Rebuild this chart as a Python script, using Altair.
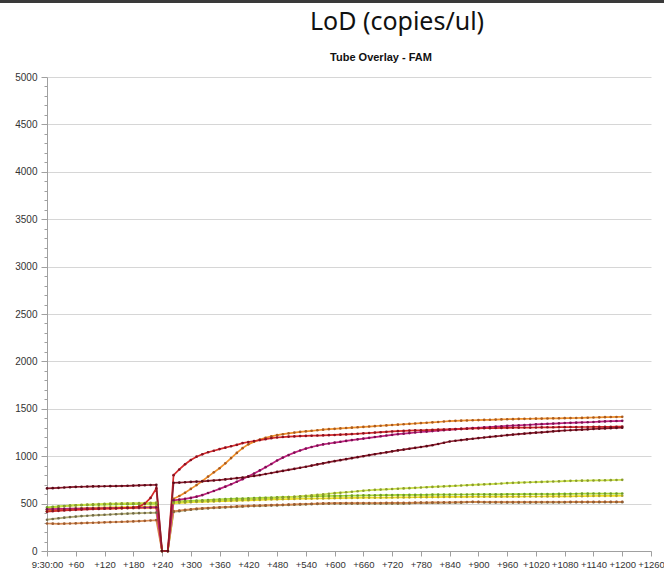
import altair as alt
import pandas as pd

# time grid (seconds after 9:30:00)
times = list(range(0, 1201, 12))
DIP = [0, 0]

tubes = ["Tube 1", "Tube 2", "Tube 3", "Tube 4", "Tube 5", "Tube 6", "Tube 7", "Tube 8", "Tube 9"]
line_colors = ["#b0a870", "#d88a50", "#f0e020", "#a8d830", "#c8e040",
               "#f0902a", "#c0207e", "#d42a2a", "#8b1a2b"]
point_colors = ["#706a48", "#9a5a30", "#a8a028", "#6a9a28", "#8a9a30",
                "#a85a20", "#7a1050", "#8a1020", "#5a0a18"]

olive_pre = [330, 338, 345, 352, 358, 363, 368, 372, 376, 379,
             382, 385, 388, 391, 394, 397, 399, 401, 403, 405]
olive_post = [412, 420, 428, 435, 441, 446, 450, 454, 457, 460,
              463, 466, 469, 472, 474, 476, 478, 480, 482, 484,
              486, 488, 490, 492, 494, 496, 498, 500, 500, 500,
              500, 500, 500, 500, 500, 500, 500, 500, 500, 500,
              500, 501, 506, 507, 507, 508, 508, 509, 509, 510,
              511, 514, 516, 515, 513, 512, 512, 512, 512, 512,
              512, 512, 512, 512, 513, 513, 513, 513, 513, 514,
              514, 514, 514, 514, 515, 515, 515, 515, 515]

brown_pre = [290, 288, 287, 288, 290, 292, 294, 296, 298, 300,
             302, 304, 306, 308, 310, 312, 315, 318, 322, 326]
brown_post = [420, 427, 434, 440, 446, 450, 454, 458, 461, 464,
              467, 470, 473, 476, 478, 480, 482, 484, 486, 488,
              490, 492, 494, 496, 498, 500, 502, 503, 504, 504,
              505, 505, 505, 506, 506, 506, 506, 507, 507, 507,
              507, 508, 510, 511, 511, 512, 512, 513, 513, 514,
              515, 517, 519, 518, 517, 516, 516, 516, 516, 516,
              516, 516, 516, 516, 517, 517, 517, 517, 517, 518,
              518, 518, 518, 518, 519, 519, 519, 519, 519]

yellow_pre = [420, 428, 435, 440, 444, 448, 451, 453, 455, 457,
              459, 460, 461, 462, 463, 464, 465, 466, 468, 470]
yellow_post = [505, 508, 511, 514, 517, 519, 521, 523, 525, 527,
               529, 531, 533, 535, 537, 539, 541, 543, 545, 546,
               548, 549, 551, 552, 553, 554, 555, 556, 557, 558,
               559, 560, 561, 562, 562, 563, 563, 564, 564, 565,
               565, 566, 567, 568, 568, 569, 569, 570, 570, 571,
               571, 571, 572, 572, 572, 573, 573, 573, 574, 574,
               574, 575, 575, 575, 575, 576, 576, 576, 577, 577,
               578, 578, 579, 580, 581, 581, 582, 582, 583]

lime_pre = [460, 466, 471, 475, 478, 481, 483, 485, 487, 488,
            490, 491, 492, 493, 494, 495, 496, 497, 498, 500]
lime_post = [520, 523, 526, 529, 532, 535, 538, 541, 544, 547,
             550, 552, 554, 556, 558, 560, 562, 564, 566, 568,
             570, 572, 574, 576, 577, 578, 579, 580, 581, 582,
             583, 584, 585, 586, 587, 588, 589, 590, 590, 591,
             591, 592, 592, 593, 593, 594, 594, 595, 595, 596,
             596, 596, 597, 597, 597, 598, 598, 598, 599, 599,
             599, 600, 600, 600, 601, 601, 601, 602, 602, 603,
             604, 605, 605, 606, 606, 606, 606, 606, 606]

ygreen_pre = [440, 455, 465, 472, 478, 483, 487, 490, 493, 495,
              497, 499, 500, 502, 503, 504, 505, 506, 508, 510]
ygreen_post = [515, 518, 520, 522, 525, 527, 530, 532, 534, 536,
               538, 540, 542, 544, 547, 550, 553, 556, 560, 564,
               568, 572, 577, 582, 587, 592, 597, 604, 610, 615,
               620, 625, 630, 636, 641, 645, 648, 651, 654, 657,
               660, 663, 666, 670, 673, 676, 679, 682, 685, 688,
               691, 694, 697, 700, 703, 706, 709, 712, 716, 719,
               721, 723, 725, 727, 729, 731, 733, 735, 738, 740,
               741, 742, 743, 744, 745, 746, 747, 749, 751]

orange_pre = [420, 428, 434, 438, 441, 443, 445, 446, 447, 448,
              449, 450, 450, 451, 452, 452, 453, 454, 455, 455]
orange_post = [550, 580, 615, 655, 695, 738, 785, 830, 873, 925,
               980, 1035, 1085, 1125, 1152, 1175, 1195, 1210, 1222, 1232,
               1241, 1249, 1256, 1262, 1268, 1274, 1280, 1285, 1289, 1293,
               1297, 1301, 1305, 1309, 1313, 1317, 1321, 1325, 1329, 1333,
               1337, 1341, 1345, 1349, 1353, 1357, 1361, 1366, 1371, 1373,
               1375, 1377, 1379, 1381, 1383, 1384, 1386, 1388, 1390, 1391,
               1393, 1394, 1395, 1396, 1397, 1398, 1399, 1400, 1401, 1402,
               1403, 1404, 1406, 1408, 1410, 1412, 1413, 1414, 1415]

magenta_pre = [440, 442, 444, 445, 446, 447, 448, 449, 450, 451,
               452, 453, 454, 455, 456, 457, 458, 459, 460, 462]
magenta_post = [535, 542, 550, 560, 573, 590, 612, 633, 655, 679,
                704, 730, 758, 788, 818, 850, 884, 918, 955, 985,
                1012, 1038, 1060, 1080, 1097, 1112, 1124, 1134, 1143, 1152,
                1161, 1170, 1178, 1186, 1194, 1202, 1210, 1218, 1225, 1232,
                1238, 1244, 1250, 1255, 1260, 1265, 1270, 1275, 1280, 1284,
                1288, 1292, 1296, 1300, 1304, 1308, 1312, 1316, 1320, 1323,
                1326, 1329, 1332, 1335, 1338, 1341, 1344, 1347, 1350, 1352,
                1354, 1356, 1358, 1361, 1364, 1367, 1369, 1371, 1373]

crimson_pre = [415, 420, 424, 428, 431, 434, 437, 440, 442, 444,
               446, 448, 450, 452, 455, 458, 468, 500, 560, 660]
crimson_post = [800, 860, 915, 960, 995, 1020, 1042, 1058, 1075, 1090,
                1105, 1120, 1138, 1150, 1160, 1170, 1180, 1190, 1197, 1202,
                1206, 1209, 1212, 1214, 1216, 1218, 1220, 1222, 1224, 1227,
                1230, 1233, 1237, 1241, 1245, 1249, 1253, 1257, 1261, 1264,
                1267, 1270, 1272, 1274, 1276, 1278, 1280, 1282, 1284, 1286,
                1288, 1290, 1292, 1294, 1295, 1296, 1297, 1298, 1299, 1300,
                1301, 1302, 1302, 1303, 1304, 1305, 1305, 1306, 1306, 1307,
                1307, 1308, 1308, 1309, 1309, 1310, 1310, 1311, 1312]

maroon_pre = [660, 663, 666, 670, 673, 676, 678, 680, 681, 682,
              683, 684, 685, 686, 688, 690, 692, 694, 696, 698]
maroon_post = [720, 722, 725, 729, 732, 735, 740, 744, 749, 755,
               762, 768, 775, 783, 792, 801, 812, 823, 834, 845,
               856, 867, 878, 889, 901, 913, 925, 937, 948, 958,
               969, 979, 990, 1000, 1011, 1021, 1031, 1041, 1051, 1061,
               1070, 1079, 1088, 1097, 1106, 1116, 1129, 1142, 1155, 1163,
               1170, 1177, 1184, 1191, 1197, 1204, 1210, 1216, 1222, 1228,
               1233, 1238, 1243, 1248, 1252, 1257, 1262, 1267, 1271, 1274,
               1277, 1280, 1283, 1287, 1290, 1293, 1296, 1298, 1300]

series = [
    (olive_pre, olive_post), (brown_pre, brown_post), (yellow_pre, yellow_post),
    (lime_pre, lime_post), (ygreen_pre, ygreen_post), (orange_pre, orange_post),
    (magenta_pre, magenta_post), (crimson_pre, crimson_post), (maroon_pre, maroon_post),
]

x_ticks = list(range(0, 1261, 60))
y_ticks = list(range(0, 5001, 100))

rows = []
for k, (name, (pre, post)) in enumerate(zip(tubes, series)):
    vals = list(pre) + DIP + list(post)
    n = min(len(vals), len(times))
    for t, v in zip(times[:n], vals[:n]):
        rows.append({"time": t, "rfu": v, "tube": name, "ord": k})
df = pd.DataFrame(rows)


def x_enc():
    return alt.X("time:Q", scale=alt.Scale(domain=[0, 1260], nice=False, zero=True),
                 axis=alt.Axis(values=x_ticks, title=None, grid=False,
                               labelExpr="datum.value == 0 ? '9:30:00' : '+' + datum.value",
                               labelFont="Liberation Sans", labelFontSize=9.5, labelColor="#333333",
                               domainColor="#a0a0a0", tickColor="#a0a0a0", tickSize=5,
                               labelPadding=3, labelOverlap=False, labelFlush=False))


def y_enc():
    return alt.Y("rfu:Q", scale=alt.Scale(domain=[0, 5000], nice=False),
                 axis=alt.Axis(values=y_ticks, title=None, format="d",
                               labelExpr="datum.value % 500 == 0 ? datum.label : ''",
                               labelFont="Liberation Sans", labelFontSize=10, labelColor="#333333",
                               domainColor="#a0a0a0", tickColor="#a0a0a0",
                               tickSize={"condition": {"test": "datum.value % 500 == 0", "value": 6}, "value": 3},
                               grid=True, gridColor="#d6d6d6",
                               gridOpacity={"condition": {"test": "datum.value % 500 == 0", "value": 1}, "value": 0},
                               labelPadding=4, labelOverlap=False))


base = alt.Chart(df)
lines = base.mark_line(strokeWidth=1.7).encode(
    x=x_enc(), y=y_enc(),
    color=alt.Color("tube:N", scale=alt.Scale(domain=tubes, range=line_colors), legend=None),
    order=alt.Order("time:Q"),
)
points = base.mark_point(filled=True, size=7, opacity=1, shape="circle").encode(
    x=x_enc(), y=y_enc(),
    color=alt.Color("tube:N", scale=alt.Scale(domain=tubes, range=point_colors), legend=None),
)

title = alt.Chart(alt.Data(values=[{"t": "LoD (copies/ul)"}])).mark_text(
    font="Noto Sans", fontSize=25, color="#111111", align="center", baseline="middle"
).encode(text="t:N", x=alt.value(350), y=alt.value(-55))

subtitle = alt.Chart(alt.Data(values=[{"t": "Tube Overlay - FAM"}])).mark_text(
    font="Liberation Sans", fontSize=11, fontWeight="bold", color="#111111",
    align="center", baseline="middle"
).encode(text="t:N", x=alt.value(334), y=alt.value(-19))

topbar = alt.Chart(alt.Data(values=[{"a": 1}])).mark_rect(color="#3a3a3a").encode(
    x=alt.value(-47), x2=alt.value(617), y=alt.value(-77), y2=alt.value(-74))

chart = alt.layer(lines, points, title, subtitle, topbar).resolve_scale(
    color="independent"
).properties(
    width=604, height=474,
    padding={"left": 47, "top": 77, "right": 13, "bottom": 28},
    autosize=alt.AutoSizeParams(type="none"),
    background="white",
).configure_view(stroke=None)

chart.save("out.html", embed_options={"renderer": "svg", "actions": False})
